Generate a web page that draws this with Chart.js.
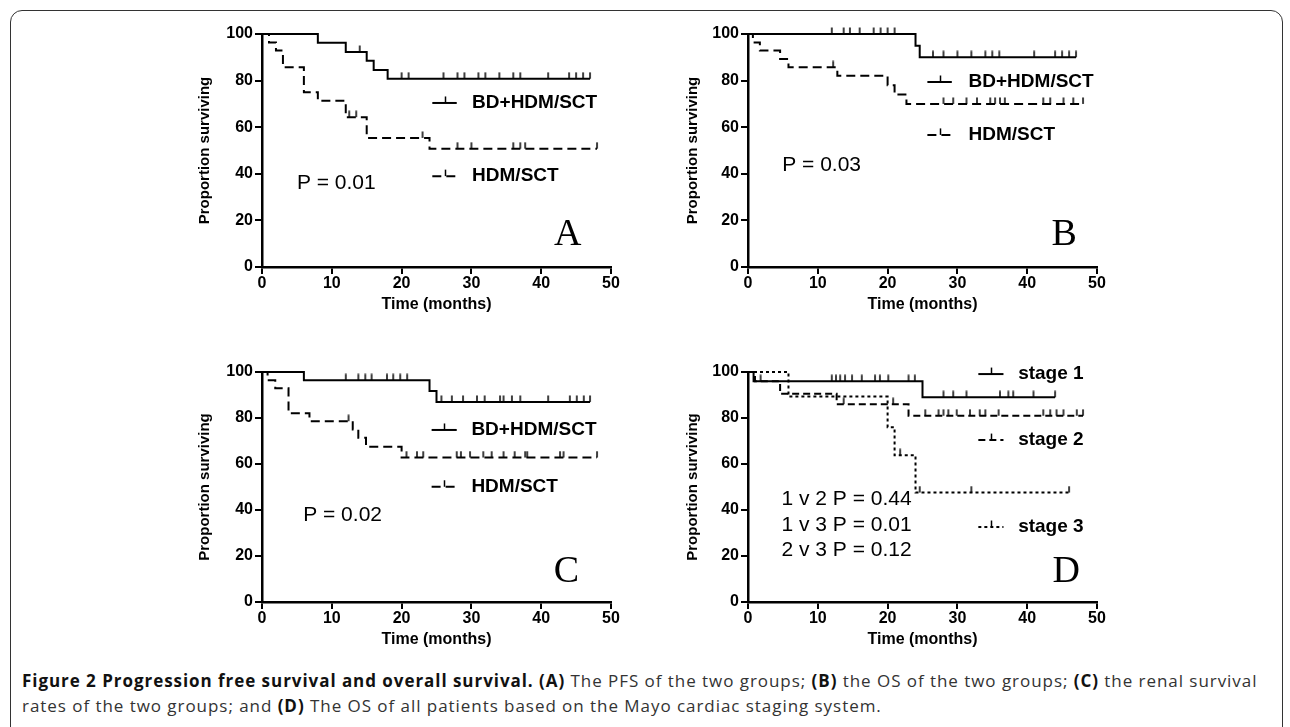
<!DOCTYPE html>
<html>
<head>
<title>Figure 2 survival curves</title>
<script src="https://cdn.jsdelivr.net/npm/chart.js"></script>
<style>
  body { margin: 0; background: #fff; width: 1290px; height: 727px; overflow: hidden; position: relative; }
  .frame { position: absolute; left: 10px; top: 10px; width: 1273px; height: 760px; border: 1.5px solid #333; border-radius: 12px; box-sizing: border-box; }
  canvas.panel { position: absolute; }
  .caption { position: absolute; left: 22px; top: 668px; font-family: "Open Sans", sans-serif; font-size: 17px; letter-spacing: 0.95px; line-height: 25px; color: #333; white-space: nowrap; }
  .caption b { color: #111; }
</style>
</head>
<body>
<div class="frame"></div>
<canvas class="panel" id="chartA" width="434" height="294" style="left:196px;top:20px"></canvas>
<canvas class="panel" id="chartB" width="432" height="294" style="left:684px;top:20px"></canvas>
<canvas class="panel" id="chartC" width="434" height="291" style="left:196px;top:358px"></canvas>
<canvas class="panel" id="chartD" width="432" height="291" style="left:684px;top:358px"></canvas>
<div class="caption">
  <b>Figure 2 Progression free survival and overall survival. (A)</b> The PFS of the two groups; <b>(B)</b> the OS of the two groups; <b>(C)</b> the renal survival<br>
  rates of the two groups; and <b>(D)</b> The OS of all patients based on the Mayo cardiac staging system.
</div>

<script>
// axis ticks (months / percent)
const xTicks = [0, 10, 20, 30, 40, 50];
const yTicks = [0, 20, 40, 60, 80, 100];

// (A) PFS
const aBdTimes = [0, 8, 12, 15, 16, 18, 47];
const aBdSurv = [100, 96.2, 92.3, 88.5, 84.6, 80.8, 80.8];
const aBdCens = [14, 20, 21, 26, 28, 29, 31, 32, 34, 36, 37, 41, 44, 45, 46, 47];
const aHdmTimes = [0, 1, 2, 3, 6, 8, 12, 15, 24, 48];
const aHdmSurv = [100, 96.4, 92.9, 85.7, 75, 71.4, 64.3, 55.4, 50.8, 50.8];
const aHdmCens = [12.5, 13.5, 23, 28, 30, 36, 37, 37.7, 48];

// (B) OS
const bBdTimes = [0, 24, 24.6, 47];
const bBdSurv = [100, 95, 90, 90];
const bBdCens = [12, 13.7, 14.6, 16, 18, 19, 20, 21, 26.5, 28, 30, 32, 34, 35, 36, 41, 44, 45, 46, 47];
const bHdmTimes = [0, 0.7, 1.7, 4.6, 5.8, 12.8, 20, 21, 22.7, 48];
const bHdmSurv = [100, 96.4, 92.9, 89.3, 85.7, 82.1, 78, 74, 70, 70];
const bHdmCens = [12.2, 28, 29.4, 31.3, 32.8, 34.7, 35.4, 36.1, 36.8, 42.3, 43.3, 45.2, 46.6, 48];

// (C) renal survival
const cBdTimes = [0, 6, 24, 25, 47];
const cBdSurv = [100, 96.4, 91.7, 87, 87];
const cBdCens = [12, 13.8, 14.8, 15.7, 17.9, 18.8, 19.8, 20.8, 25.7, 27.2, 28.8, 30.8, 31.9, 34.1, 34.6, 35.8, 37, 41, 44.1, 45.1, 46.1, 47];
const cHdmTimes = [0, 0.8, 1.9, 3.8, 6.8, 13, 13.8, 14.9, 20, 48];
const cHdmSurv = [100, 96.4, 92.9, 82.1, 78.6, 75, 71.4, 67.5, 62.8, 62.8];
const cHdmCens = [12.4, 20.7, 22.2, 23.1, 27.9, 28.5, 29.8, 31.7, 32.9, 34.6, 36.2, 37.7, 38, 42.7, 43.2, 48];

// (D) OS by Mayo stage
const dS1Times = [0, 0.8, 25, 44];
const dS1Surv = [100, 96, 89, 89];
const dS1Cens = [12, 12.6, 13.2, 13.9, 14.9, 16.3, 18.2, 18.9, 20.1, 23, 23.9, 28, 29.4, 31.3, 36.1, 37.3, 38, 40.9, 44];
const dS2Times = [0, 1, 4.6, 12.7, 23, 48];
const dS2Surv = [100, 96, 90.5, 86, 81, 81];
const dS2Cens = [1.8, 13.7, 20.8, 25.4, 27.3, 28, 28.7, 29.9, 31.8, 33.2, 34, 35.9, 42.3, 43.3, 44.2, 45.2, 47.1, 48];
const dS3Times = [0, 5.8, 20, 21, 24, 46];
const dS3Surv = [100, 89.3, 76, 63.8, 47.6, 47.6];
const dS3Cens = [21.8, 24.6, 32, 46];

const pA = ['P = 0.01'];
const pB = ['P = 0.03'];
const pC = ['P = 0.02'];
const pD = ['1 v 2 P = 0.44', '1 v 3 P = 0.01', '2 v 3 P = 0.12'];

const panels = [
  { canvas: 'chartA', letter: 'A', yWidth: 66, pad: 19,
    series: [
      { label: 'BD+HDM/SCT', times: aBdTimes, surv: aBdSurv, cens: aBdCens, dash: [] },
      { label: 'HDM/SCT', times: aHdmTimes, surv: aHdmSurv, cens: aHdmCens, dash: [9, 5] }
    ],
    pText: pA,
    pos: { legX: 24.4, legLen: 3.5, legTextX: 30.1, legY: [70.4, 39], pX: 5, pY: [36], letterX: 43.8, letterY: 13.7 } },
  { canvas: 'chartB', letter: 'B', yWidth: 64, pad: 19,
    series: [
      { label: 'BD+HDM/SCT', times: bBdTimes, surv: bBdSurv, cens: bBdCens, dash: [] },
      { label: 'HDM/SCT', times: bHdmTimes, surv: bHdmSurv, cens: bHdmCens, dash: [9, 5] }
    ],
    pText: pB,
    pos: { legX: 25.7, legLen: 3.5, legTextX: 31.6, legY: [79.4, 56.7], pX: 4.9, pY: [43.8], letterX: 45.3, letterY: 13.7 } },
  { canvas: 'chartC', letter: 'C', yWidth: 66, pad: 19,
    series: [
      { label: 'BD+HDM/SCT', times: cBdTimes, surv: cBdSurv, cens: cBdCens, dash: [] },
      { label: 'HDM/SCT', times: cHdmTimes, surv: cHdmSurv, cens: cHdmCens, dash: [9, 5] }
    ],
    pText: pC,
    pos: { legX: 24.3, legLen: 3.6, legTextX: 30, legY: [74.8, 50.1], pX: 5.9, pY: [37.8], letterX: 43.6, letterY: 13 } },
  { canvas: 'chartD', letter: 'D', yWidth: 64, pad: 19,
    series: [
      { label: 'stage 1', times: dS1Times, surv: dS1Surv, cens: dS1Cens, dash: [] },
      { label: 'stage 2', times: dS2Times, surv: dS2Surv, cens: dS2Cens, dash: [7, 4] },
      { label: 'stage 3', times: dS3Times, surv: dS3Surv, cens: dS3Cens, dash: [3, 3] }
    ],
    pText: pD,
    pos: { legX: 33, legLen: 3.6, legTextX: 38.7, legY: [99.1, 70.4, 32.6], pX: 4.8, pY: [44.8, 33.5, 22.6], letterX: 45.6, letterY: 13 } }
];

// small upward tick used for censored observations
function censorMark() {
  const c = document.createElement('canvas');
  c.width = 4; c.height = 14;
  const g = c.getContext('2d');
  g.fillStyle = '#000';
  g.fillRect(1.25, 0.5, 1.5, 6.5);
  return c;
}
const mark = censorMark();

function survAt(times, surv, t) {
  let v = surv[0];
  for (let i = 0; i < times.length; i++) if (times[i] <= t) v = surv[i];
  return v;
}

const panelText = {
  id: 'panelText',
  afterDraw(chart, args, o) {
    const ctx = chart.ctx, x = chart.scales.x, y = chart.scales.y, p = o.pos;
    ctx.save();
    ctx.fillStyle = '#000';
    ctx.strokeStyle = '#000';
    ctx.textBaseline = 'middle';
    ctx.textAlign = 'left';
    o.series.forEach((s, i) => {
      const py = y.getPixelForValue(p.legY[i]);
      const x1 = x.getPixelForValue(p.legX), x2 = x.getPixelForValue(p.legX + p.legLen);
      ctx.lineWidth = 2;
      ctx.setLineDash(s.dash);
      ctx.beginPath(); ctx.moveTo(x1, py); ctx.lineTo(x2, py); ctx.stroke();
      ctx.setLineDash([]);
      ctx.lineWidth = 1.5;
      const xm = Math.round((x1 + x2) / 2) + 0.5;
      ctx.beginPath(); ctx.moveTo(xm, py); ctx.lineTo(xm, py - 6.5); ctx.stroke();
      ctx.font = 'bold 19px "Liberation Sans", Arial, sans-serif';
      ctx.fillText(s.label, x.getPixelForValue(p.legTextX), py);
    });
    ctx.font = '21px "Liberation Sans", Arial, sans-serif';
    o.pText.forEach((t, i) => ctx.fillText(t, x.getPixelForValue(p.pX), y.getPixelForValue(p.pY[i])));
    ctx.font = '38px "Liberation Serif", "Times New Roman", serif';
    ctx.textAlign = 'center';
    ctx.fillText(o.letter, x.getPixelForValue(p.letterX), y.getPixelForValue(p.letterY));
    ctx.restore();
  }
};

panels.forEach(pn => {
  const datasets = [];
  pn.series.forEach(s => {
    datasets.push({
      type: 'line',
      data: s.times.map((t, i) => ({ x: t, y: s.surv[i] })),
      stepped: 'before',
      borderColor: '#000',
      borderWidth: 2,
      borderDash: s.dash,
      pointRadius: 0,
      fill: false,
      clip: false
    });
    datasets.push({
      type: 'scatter',
      data: s.cens.map(t => ({ x: t, y: survAt(s.times, s.surv, t) })),
      pointStyle: mark,
      pointRadius: 3,
      clip: false
    });
  });

  new Chart(document.getElementById(pn.canvas), {
    type: 'line',
    data: { datasets },
    plugins: [panelText],
    options: {
      responsive: false,
      animation: false,
      events: [],
      layout: { padding: { top: 14, right: pn.pad, left: 0, bottom: 0 } },
      plugins: {
        legend: { display: false },
        tooltip: { enabled: false },
        panelText: { series: pn.series, pText: pn.pText, pos: pn.pos, letter: pn.letter }
      },
      scales: {
        x: {
          type: 'linear', min: 0, max: 50,
          afterBuildTicks: s => { s.ticks = xTicks.map(v => ({ value: v })); },
          afterFit: s => { s.height = 47; },
          border: { color: '#000', width: 2.5 },
          grid: { drawOnChartArea: false, drawTicks: true, tickLength: 7, color: '#000', lineWidth: 2 },
          ticks: { color: '#000', padding: 0, maxRotation: 0, font: { family: '"Liberation Sans", Arial', size: 16, weight: 'bold' } },
          title: { display: true, text: 'Time (months)', color: '#000', padding: 0, font: { family: '"Liberation Sans", Arial', size: 16, weight: 'bold' } }
        },
        y: {
          type: 'linear', min: 0, max: 100,
          afterBuildTicks: s => { s.ticks = yTicks.map(v => ({ value: v })); },
          afterFit: s => { s.width = pn.yWidth; },
          border: { color: '#000', width: 2.5 },
          grid: { drawOnChartArea: false, drawTicks: true, tickLength: 7, color: '#000', lineWidth: 2 },
          ticks: { color: '#000', padding: 2, font: { family: '"Liberation Sans", Arial', size: 16, weight: 'bold' } },
          title: { display: true, text: 'Proportion surviving', color: '#000', padding: 0, font: { family: '"Liberation Sans", Arial', size: 15, weight: 'bold' } }
        }
      }
    }
  });
});
</script>
</body>
</html>
